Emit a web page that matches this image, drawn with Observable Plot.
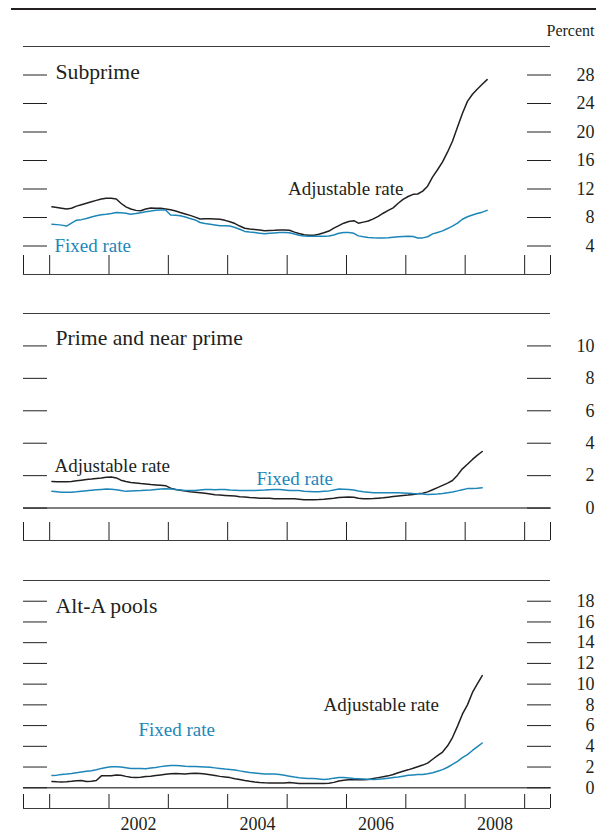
<!DOCTYPE html>
<html><head><meta charset="utf-8">
<script src="https://cdn.jsdelivr.net/npm/d3@7"></script>
<script src="https://cdn.jsdelivr.net/npm/@observablehq/plot@0.6"></script>
<style>
body{margin:0;background:#fff;}
#chart{position:relative;width:596px;height:836px;background:#fff;font-family:"Liberation Serif",serif;overflow:hidden;}
#rule{position:absolute;left:11px;top:8px;width:585px;height:0;border-top:2.5px solid #231f20;}
.panel{position:absolute;left:0;}
</style></head><body>
<div id="chart"><div id="rule"></div></div>
<script>
// ---- Data (monthly, Jan 2001 onward), percent ----
const panelTitles = ["Subprime", "Prime and near prime", "Alt-A pools"];
const seriesNames = ["Adjustable rate", "Fixed rate"];
const unitLabel = "Percent";
const yearLabels = [2002, 2004, 2006, 2008];
const yearTickYears = [2001, 2002, 2003, 2004, 2005, 2006, 2007, 2008, 2009];
const subprimeTicks = [4, 8, 12, 16, 20, 24, 28];
const primeTicks = [0, 2, 4, 6, 8, 10];
const altATicks = [0, 2, 4, 6, 8, 10, 12, 14, 16, 18];

const subprimeAdjustable = [
  9.5,9.4,9.3,9.2,9.3,9.6,9.8,10.0,10.2,10.4,10.6,10.7,
  10.7,10.6,10.0,9.5,9.2,9.0,8.95,9.2,9.33,9.3,9.3,9.2,
  9.1,8.9,8.7,8.5,8.3,8.05,7.8,7.82,7.83,7.8,7.75,7.6,
  7.4,7.15,6.8,6.5,6.38,6.33,6.25,6.15,6.18,6.2,6.25,6.25,
  6.2,5.95,5.75,5.58,5.52,5.5,5.65,5.85,6.1,6.5,6.85,7.2,
  7.45,7.55,7.2,7.35,7.5,7.8,8.15,8.6,9.0,9.35,10.0,10.55,
  10.95,11.25,11.3,11.7,12.4,13.7,14.7,15.8,17.2,18.7,20.7,22.6,
  24.3,25.3,26.0,26.7,27.35];
const subprimeFixed = [
  7.05,7.0,6.93,6.8,7.2,7.62,7.7,7.85,8.07,8.25,8.37,8.45,
  8.55,8.7,8.67,8.6,8.45,8.55,8.68,8.8,8.9,9.02,9.05,9.05,
  8.35,8.32,8.25,8.07,7.85,7.66,7.3,7.15,7.05,6.95,6.85,6.85,
  6.8,6.6,6.35,6.05,5.95,5.88,5.8,5.73,5.79,5.84,5.9,5.88,
  5.85,5.68,5.5,5.42,5.36,5.36,5.36,5.38,5.4,5.55,5.78,5.88,
  5.88,5.78,5.42,5.3,5.2,5.15,5.12,5.12,5.15,5.22,5.3,5.35,
  5.36,5.33,5.12,5.14,5.3,5.7,5.9,6.12,6.45,6.8,7.2,7.75,
  8.1,8.35,8.55,8.75,9.0];
const primeAdjustable = [
  1.64,1.63,1.62,1.63,1.64,1.68,1.72,1.76,1.79,1.83,1.86,1.9,
  1.91,1.86,1.72,1.64,1.58,1.55,1.51,1.48,1.45,1.43,1.41,1.38,
  1.23,1.15,1.1,1.05,1.01,0.98,0.95,0.91,0.87,0.82,0.8,0.78,
  0.76,0.74,0.7,0.68,0.65,0.63,0.61,0.6,0.6,0.58,0.57,0.58,
  0.57,0.57,0.55,0.52,0.51,0.52,0.53,0.55,0.58,0.61,0.65,0.67,
  0.68,0.67,0.6,0.58,0.58,0.59,0.61,0.63,0.67,0.71,0.75,0.78,
  0.8,0.84,0.88,0.91,1.0,1.13,1.26,1.4,1.54,1.7,2.03,2.42,
  2.7,3.0,3.25,3.49];
const primeFixed = [
  1.03,1.0,0.97,0.97,0.97,1.0,1.04,1.07,1.1,1.13,1.15,1.17,
  1.16,1.13,1.08,1.03,1.05,1.07,1.08,1.1,1.12,1.15,1.17,1.19,
  1.17,1.15,1.12,1.09,1.09,1.09,1.12,1.15,1.14,1.13,1.15,1.14,
  1.11,1.1,1.09,1.09,1.09,1.09,1.1,1.11,1.13,1.14,1.15,1.12,
  1.09,1.09,1.08,1.04,1.02,1.0,1.01,1.04,1.06,1.12,1.17,1.16,
  1.15,1.12,1.05,1.0,0.98,0.95,0.95,0.95,0.94,0.94,0.94,0.93,
  0.92,0.9,0.89,0.87,0.83,0.85,0.87,0.9,0.95,0.99,1.06,1.13,
  1.2,1.21,1.22,1.25];
const altAAdjustable = [
  0.61,0.57,0.55,0.58,0.62,0.68,0.7,0.6,0.64,0.7,1.15,1.16,
  1.16,1.24,1.2,1.1,1.02,1.0,1.02,1.08,1.12,1.18,1.24,1.3,
  1.35,1.38,1.36,1.34,1.38,1.41,1.38,1.32,1.25,1.18,1.1,1.04,
  0.98,0.88,0.8,0.7,0.62,0.55,0.51,0.48,0.47,0.45,0.45,0.45,
  0.5,0.46,0.42,0.42,0.42,0.42,0.42,0.42,0.44,0.52,0.65,0.72,
  0.77,0.77,0.77,0.77,0.8,0.9,0.98,1.06,1.15,1.28,1.45,1.6,
  1.73,1.88,2.03,2.19,2.38,2.75,3.1,3.45,4.05,4.85,5.95,7.1,
  8.0,9.2,10.0,10.82];
const altAFixed = [
  1.19,1.22,1.29,1.33,1.38,1.46,1.53,1.6,1.64,1.74,1.87,1.96,
  2.03,2.03,2.0,1.93,1.87,1.87,1.85,1.84,1.9,1.96,2.04,2.1,
  2.14,2.16,2.12,2.08,2.06,2.06,2.04,2.0,1.97,1.92,1.86,1.8,
  1.76,1.72,1.63,1.55,1.48,1.42,1.37,1.32,1.32,1.32,1.27,1.2,
  1.12,1.03,0.97,0.93,0.9,0.9,0.85,0.8,0.85,0.93,1.0,0.98,
  0.95,0.9,0.87,0.84,0.82,0.8,0.82,0.86,0.92,0.98,1.03,1.12,
  1.2,1.24,1.27,1.29,1.35,1.45,1.6,1.75,1.98,2.25,2.55,2.9,
  3.2,3.6,3.95,4.32];

// ---- helpers ----
const monthDate = i => new Date(Date.UTC(2001, i, 15));
const toRows = (vals) => vals.map((v, i) => ({date: monthDate(i), value: v}));
const xDomain = [new Date(Date.UTC(2000, 6, 24)), new Date(Date.UTC(2009, 5, 9))];
const yearTicks = yearTickYears.map(y => new Date(Date.UTC(y, 0, 1)));
const yearLabelDates = yearLabels.map(y => new Date(Date.UTC(y, 6, 2)));

const INK = "#231f20";
const BLUE = "#1d86b8";
const RULE = "#3d3d3d";
const FONT = "'Liberation Serif', 'Times New Roman', serif";

function panel(cfg) {
  const marks = [
    Plot.ruleY([cfg.yDomain[1]], {stroke: RULE, strokeWidth: 1}),
    Plot.ruleY([cfg.yDomain[0]], {stroke: RULE, strokeWidth: 1.2})
  ];
  if (cfg.yDomain[0] < 0) marks.push(Plot.ruleY([0], {stroke: "#555", strokeWidth: 1.4}));
  marks.push(
    Plot.axisY({anchor: "left", label: null, ticks: cfg.yTicks, tickSize: -24, tickFormat: () => "", stroke: INK, strokeWidth: 1}),
    Plot.axisY({anchor: "right", label: null, ticks: cfg.yTicks, tickSize: -24, tickFormat: () => "", stroke: INK, strokeWidth: 1}),
    Plot.axisY({anchor: "right", label: null, ticks: cfg.yTicks, tickSize: 0, tickPadding: 44, textAnchor: "end", fontSize: 18, fill: INK, tickFormat: d => String(d)}),
    Plot.axisX({anchor: "bottom", label: null, ticks: [xDomain[0], ...yearTicks, xDomain[1]], tickSize: -cfg.xTickLen, tickFormat: () => "", stroke: INK, strokeWidth: 1}),
    Plot.lineY(toRows(cfg.adjustable), {x: "date", y: "value", stroke: INK, strokeWidth: 1.5}),
    Plot.lineY(toRows(cfg.fixed), {x: "date", y: "value", stroke: BLUE, strokeWidth: 1.5}),
    Plot.text([cfg.title], {text: d => d, frameAnchor: "top-left", textAnchor: "start", lineAnchor: "middle", dx: 32, dy: cfg.titleDy, fontSize: 21.7, fill: INK}),
    Plot.text([seriesNames[0]], {text: d => d, frameAnchor: "top-left", textAnchor: cfg.adjAnchor, lineAnchor: "middle", dx: cfg.adjDx, dy: cfg.adjDy, fontSize: 19, fill: INK}),
    Plot.text([seriesNames[1]], {text: d => d, frameAnchor: "top-left", textAnchor: "start", lineAnchor: "middle", dx: cfg.fixDx, dy: cfg.fixDy, fontSize: 19, fill: BLUE})
  );
  if (cfg.unit) marks.push(Plot.text([cfg.unit], {text: d => d, frameAnchor: "top-right", textAnchor: "end", lineAnchor: "middle", dx: 44, dy: -16, fontSize: 16, fill: INK}));
  if (cfg.showYears) marks.push(Plot.axisX({anchor: "bottom", label: null, ticks: yearLabelDates, tickSize: 0, tickPadding: 9, fontSize: 18, fill: INK, tickFormat: d => String(d.getUTCFullYear())}));
  const svg = Plot.plot({
    width: 596, height: cfg.height,
    marginLeft: 23, marginRight: 46, marginTop: cfg.marginTop, marginBottom: cfg.marginBottom,
    x: {type: "utc", domain: xDomain, label: null},
    y: {domain: cfg.yDomain, label: null},
    style: {fontFamily: FONT, fontSize: "18px", background: "transparent", overflow: "visible", color: INK},
    marks
  });
  svg.classList.add("panel");
  svg.style.top = cfg.top + "px";
  svg.style.position = "absolute";
  document.getElementById("chart").appendChild(svg);
}

panel({
  title: panelTitles[0], unit: unitLabel, yDomain: [0, 32], yTicks: subprimeTicks,
  adjustable: subprimeAdjustable, fixed: subprimeFixed,
  top: 20, height: 266, marginTop: 26, marginBottom: 12, xTickLen: 19,
  titleDy: 25.3, adjAnchor: "end", adjDx: 380, adjDy: 142, fixDx: 31, fixDy: 199
});
panel({
  title: panelTitles[1], yDomain: [-2, 12], yTicks: primeTicks,
  adjustable: primeAdjustable, fixed: primeFixed,
  top: 290, height: 260, marginTop: 23, marginBottom: 10, xTickLen: 18,
  titleDy: 25, adjAnchor: "start", adjDx: 31, adjDy: 152.5, fixDx: 233, fixDy: 165.8
});
panel({
  title: panelTitles[2], yDomain: [-2, 20], yTicks: altATicks,
  adjustable: altAAdjustable, fixed: altAFixed,
  top: 560, height: 276, marginTop: 20, marginBottom: 28, xTickLen: 14, showYears: true,
  titleDy: 25.6, adjAnchor: "start", adjDx: 300, adjDy: 124, fixDx: 115, fixDy: 149.6
});
</script>
</body></html>
